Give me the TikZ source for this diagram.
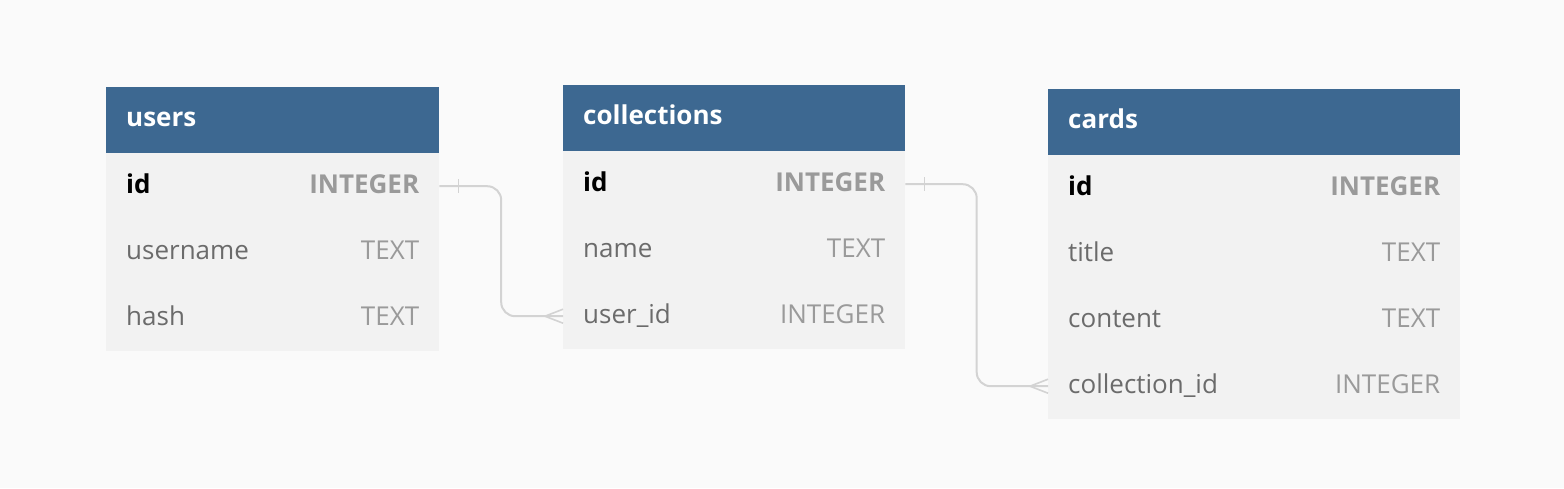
\documentclass[tikz,border=0pt]{standalone}
\usepackage{fontspec}
\setmainfont{Open Sans}
\usetikzlibrary{calc}
\definecolor{bgc}{HTML}{FAFAFA}
\definecolor{hdr}{HTML}{3D6891}
\definecolor{rowc}{HTML}{F2F2F2}
\definecolor{fgray}{HTML}{6B6B6B}
\definecolor{tgray}{HTML}{9A9A9A}
\definecolor{linec}{HTML}{D3D3D3}
\tikzset{
  hbox/.style={fill=hdr, draw=none, minimum height=66pt, inner sep=0pt, anchor=north west},
  rbox/.style={fill=rowc, draw=none, minimum height=66pt, inner sep=0pt, anchor=north west},
  htext/.style={text=white, font=\fontsize{26}{30}\selectfont\bfseries, anchor=base west, inner sep=0pt},
  fname/.style={text=fgray, font=\fontsize{26}{30}\selectfont, anchor=base west, inner sep=0pt},
  fkey/.style={text=black, font=\fontsize{26}{30}\selectfont\bfseries, anchor=base west, inner sep=0pt},
  ftype/.style={text=tgray, font=\fontsize{26}{30}\selectfont, anchor=base east, inner sep=0pt},
  fktype/.style={text=tgray, font=\fontsize{26}{30}\selectfont\bfseries, anchor=base east, inner sep=0pt},
  conn/.style={draw=linec, line width=2pt, rounded corners=14pt},
  mark line/.style={draw=linec, line width=1.6pt},
}
\begin{document}
\begin{tikzpicture}[x=1pt,y=-1pt]
\fill[bgc] (0,0) rectangle (1564,488);
\useasboundingbox (0,0) rectangle (1564,488);

% users
\node[hbox, minimum width=333pt] (users) at (106,87) {};
\node[htext] (usersT) at ([xshift=20pt,yshift=-6pt]users.west) {users};
\node[rbox, minimum width=333pt] (u1) at (106,153) {};
\node[rbox, minimum width=333pt] (u2) at (106,219) {};
\node[rbox, minimum width=333pt] (u3) at (106,285) {};
\node[fkey] (u1n) at ([xshift=20pt,yshift=-7pt]u1.west) {id};
\node[fktype] (u1t) at ([xshift=-20pt,yshift=-7pt]u1.east) {INTEGER};
\node[fname] (u2n) at ([xshift=20pt,yshift=-7pt]u2.west) {username};
\node[ftype] (u2t) at ([xshift=-20pt,yshift=-7pt]u2.east) {TEXT};
\node[fname] (u3n) at ([xshift=20pt,yshift=-7pt]u3.west) {hash};
\node[ftype] (u3t) at ([xshift=-20pt,yshift=-7pt]u3.east) {TEXT};

% collections
\node[hbox, minimum width=342pt] (coll) at (563,85) {};
\node[htext] (collT) at ([xshift=20pt,yshift=-6pt]coll.west) {collections};
\node[rbox, minimum width=342pt] (c1) at (563,151) {};
\node[rbox, minimum width=342pt] (c2) at (563,217) {};
\node[rbox, minimum width=342pt] (c3) at (563,283) {};
\node[fkey] (c1n) at ([xshift=20pt,yshift=-7pt]c1.west) {id};
\node[fktype] (c1t) at ([xshift=-20pt,yshift=-7pt]c1.east) {INTEGER};
\node[fname] (c2n) at ([xshift=20pt,yshift=-7pt]c2.west) {name};
\node[ftype] (c2t) at ([xshift=-20pt,yshift=-7pt]c2.east) {TEXT};
\node[fname] (c3n) at ([xshift=20pt,yshift=-7pt]c3.west) {user\_id};
\node[ftype] (c3t) at ([xshift=-20pt,yshift=-7pt]c3.east) {INTEGER};

% cards
\node[hbox, minimum width=412pt] (cards) at (1048,89) {};
\node[htext] (cardsT) at ([xshift=20pt,yshift=-6pt]cards.west) {cards};
\node[rbox, minimum width=412pt] (k1) at (1048,155) {};
\node[rbox, minimum width=412pt] (k2) at (1048,221) {};
\node[rbox, minimum width=412pt] (k3) at (1048,287) {};
\node[rbox, minimum width=412pt] (k4) at (1048,353) {};
\node[fkey] (k1n) at ([xshift=20pt,yshift=-7pt]k1.west) {id};
\node[fktype] (k1t) at ([xshift=-20pt,yshift=-7pt]k1.east) {INTEGER};
\node[fname] (k2n) at ([xshift=20pt,yshift=-7pt]k2.west) {title};
\node[ftype] (k2t) at ([xshift=-20pt,yshift=-7pt]k2.east) {TEXT};
\node[fname] (k3n) at ([xshift=20pt,yshift=-7pt]k3.west) {content};
\node[ftype] (k3t) at ([xshift=-20pt,yshift=-7pt]k3.east) {TEXT};
\node[fname] (k4n) at ([xshift=20pt,yshift=-7pt]k4.west) {collection\_id};
\node[ftype] (k4t) at ([xshift=-20pt,yshift=-7pt]k4.east) {INTEGER};

% connectors
\draw[conn] (u1.east) -| ($(u1.east)!0.5!(c3.west)$) |- (c3.west);
\draw[mark line] ([xshift=19pt,yshift=7pt]u1.east) -- ([xshift=19pt,yshift=-7pt]u1.east);
\draw[mark line] ([xshift=-18pt]c3.west) -- ([yshift=7pt]c3.west);
\draw[mark line] ([xshift=-18pt]c3.west) -- ([yshift=-7pt]c3.west);

\draw[conn] (c1.east) -| ($(c1.east)!0.5!(k4.west)$) |- (k4.west);
\draw[mark line] ([xshift=19pt,yshift=7pt]c1.east) -- ([xshift=19pt,yshift=-7pt]c1.east);
\draw[mark line] ([xshift=-18pt]k4.west) -- ([yshift=7pt]k4.west);
\draw[mark line] ([xshift=-18pt]k4.west) -- ([yshift=-7pt]k4.west);
\end{tikzpicture}
\end{document}
